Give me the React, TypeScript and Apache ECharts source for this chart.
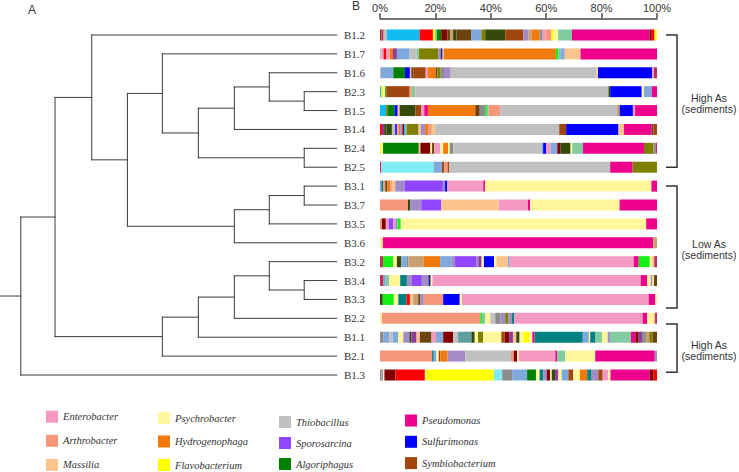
import React, { useEffect, useRef } from 'react';
import * as echarts from 'echarts';

// ---------- data ----------
const samples = ['B1.2', 'B1.7', 'B1.6', 'B2.3', 'B1.5', 'B1.4', 'B2.4', 'B2.5', 'B3.1', 'B3.7', 'B3.5', 'B3.6', 'B3.2', 'B3.4', 'B3.3', 'B2.2', 'B1.1', 'B2.1', 'B1.3'];

const genera = ['Enterobacter', 'Arthrobacter', 'Massilia', 'Psychrobacter', 'Hydrogenophaga', 'Flavobacterium', 'Thiobacillus', 'Sporosarcina', 'Algoriphagus', 'Pseudomonas', 'Sulfurimonas', 'Symbiobacterium'];
const generaKeys = ['ent', 'art', 'mas', 'psy', 'hyd', 'fla', 'thi', 'spo', 'alg', 'pse', 'sul', 'sym'];

const xTicks = [0, 20, 40, 60, 80, 100];

// relative abundance (%) per sample, in drawing order: [genus key, percent]
const pB1_2 = [['dbr', 0.5], ['cri', 0.8], ['thi', 1.2], ['sky', 11.8], ['red', 4.8], ['fla', 0.8], ['aqu', 0.6], ['alg', 1.6], ['dre', 2.3], ['dbr', 1.0], ['tan', 1.0], ['dol', 1.2], ['dbr', 5.4], ['slb', 3.6], ['oli', 1.4], ['dol', 7.2], ['sym', 6.6], ['lav', 1.8], ['tan', 1.2], ['hyd', 2.8], ['gry', 1.1], ['ent', 1.0], ['art', 2.2], ['fla', 0.8], ['psy', 1.6], ['aqu', 5.0], ['pse', 28.0], ['dre', 0.8], ['red', 1.0], ['fla', 0.8]];
const pB1_7 = [['thi', 0.5], ['ent', 0.8], ['red', 1.0], ['ent', 1.2], ['hyd', 1.2], ['pur', 1.4], ['slb', 4.6], ['thi', 2.6], ['aqu', 0.8], ['oli', 7.0], ['lav', 0.8], ['nav', 0.7], ['mas', 0.5], ['hyd', 40.4], ['lim', 0.8], ['aqu', 0.8], ['slb', 1.6], ['mas', 5.7], ['pse', 27.6]];
const pB1_6 = [['thi', 0.3], ['slb', 4.5], ['alg', 4.2], ['sul', 1.8], ['mas', 0.5], ['dbr', 0.7], ['sym', 4.5], ['ent', 0.8], ['hyd', 2.8], ['dbr', 0.6], ['oli', 1.2], ['gry', 1.2], ['lav', 2.4], ['thi', 52.7], ['mas', 0.5], ['sul', 19.6], ['ent', 0.6], ['cri', 1.1]];
const pB2_3 = [['sky', 0.5], ['fla', 0.6], ['psy', 0.8], ['alg', 0.4], ['sym', 8.4], ['art', 0.8], ['aqu', 1.2], ['thi', 69.8], ['dol', 0.6], ['sul', 11.4], ['psy', 0.8], ['slb', 2.8], ['pse', 1.9]];
const pB1_5 = [['sky', 2.2], ['oli', 0.7], ['alg', 2.3], ['sul', 1.2], ['mas', 0.7], ['dol', 5.7], ['sym', 2.0], ['ent', 1.2], ['pse', 1.3], ['hyd', 17.1], ['dbr', 1.6], ['gry', 2.0], ['lim', 0.6], ['aqu', 0.6], ['art', 4.2], ['thi', 42.1], ['tan', 1.0], ['sul', 4.8], ['ent', 0.8], ['pse', 7.9]];
const pB1_4 = [['red', 0.7], ['pur', 0.8], ['dol', 0.8], ['dol', 2.0], ['thi', 1.2], ['sul', 0.6], ['ent', 0.6], ['hyd', 0.6], ['lav', 0.8], ['dre', 0.6], ['sky', 0.6], ['tan', 0.4], ['oli', 4.2], ['mas', 0.8], ['lav', 1.6], ['hyd', 1.2], ['art', 1.2], ['mas', 1.2], ['thi', 44.8], ['sym', 2.5], ['sul', 18.9], ['mas', 2.0], ['pse', 10.0], ['dbr', 0.6], ['sym', 1.3]];
const pB2_4 = [['fla', 0.5], ['psy', 0.6], ['alg', 12.9], ['mas', 0.6], ['dre', 3.6], ['psy', 0.6], ['dbr', 0.8], ['ent', 2.2], ['psy', 1.0], ['hyd', 1.8], ['psy', 0.6], ['gry', 1.2], ['thi', 31.9], ['slb', 0.6], ['sul', 1.1], ['ent', 1.6], ['slb', 2.4], ['dre', 1.2], ['dol', 3.6], ['psy', 0.6], ['aqu', 3.9], ['pse', 22.0], ['oli', 3.4], ['gry', 0.8], ['cri', 0.5]];
const pB2_5 = [['cri', 0.5], ['cya', 18.9], ['slb', 3.0], ['sym', 0.8], ['art', 1.2], ['sym', 0.6], ['thi', 58.1], ['pse', 8.1], ['oli', 8.8]];
const pB3_1 = [['slb', 0.5], ['tea', 0.6], ['art', 0.8], ['dbr', 0.8], ['hyd', 1.0], ['art', 0.6], ['mas', 1.2], ['lav', 3.4], ['spo', 13.8], ['lav', 0.8], ['sul', 0.8], ['ent', 13.0], ['pse', 0.6], ['psy', 60.1], ['pse', 2.0]];
const pB3_7 = [['art', 10.1], ['dol', 0.8], ['lav', 4.0], ['spo', 7.2], ['mas', 20.7], ['ent', 10.6], ['pse', 0.8], ['psy', 32.3], ['pse', 13.5]];
const pB3_5 = [['art', 0.7], ['dre', 1.4], ['ent', 1.0], ['spo', 1.6], ['ent', 0.8], ['lav', 0.8], ['lim', 1.2], ['psy', 88.6], ['pse', 3.9]];
const pB3_6 = [['psy', 0.5], ['mas', 0.6], ['pse', 97.5], ['tan', 1.4]];
const pB3_2 = [['cri', 1.1], ['lim', 3.6], ['psy', 1.4], ['dol', 1.6], ['slb', 2.0], ['gry', 0.6], ['tan', 5.4], ['hyd', 6.0], ['slb', 4.2], ['lav', 1.2], ['spo', 7.8], ['lav', 0.6], ['pur', 1.2], ['psy', 0.8], ['sul', 3.7], ['psy', 0.8], ['mas', 4.2], ['slb', 0.6], ['ent', 44.8], ['pse', 1.8], ['lim', 4.0], ['psy', 0.8], ['mas', 0.8], ['cri', 1.0]];
const pB3_4 = [['cri', 1.3], ['slb', 0.8], ['aqu', 1.2], ['psy', 4.0], ['tea', 2.4], ['lav', 1.8], ['spo', 3.6], ['lav', 2.4], ['nav', 0.8], ['psy', 0.6], ['ent', 75.2], ['pse', 2.4], ['psy', 1.2], ['lav', 0.7], ['psy', 0.5], ['dbr', 1.1]];
const pB3_3 = [['dol', 1.0], ['lim', 4.0], ['psy', 1.6], ['tea', 3.0], ['red', 1.2], ['mas', 1.2], ['tan', 1.8], ['dbr', 0.8], ['lav', 1.2], ['art', 7.0], ['sul', 6.0], ['psy', 0.8], ['ent', 67.4], ['pse', 2.4], ['psy', 0.6]];
const pB2_2 = [['psy', 0.7], ['art', 35.5], ['lim', 0.6], ['aqu', 1.2], ['psy', 1.8], ['thi', 1.8], ['gry', 1.8], ['lav', 1.8], ['oli', 1.2], ['lav', 1.2], ['tea', 0.8], ['ent', 46.4], ['pse', 1.7], ['psy', 2.2], ['mas', 0.6], ['cri', 0.7]];
const pB1_1 = [['gry', 1.3], ['slb', 2.0], ['thi', 1.3], ['slb', 2.0], ['psy', 1.8], ['lav', 2.2], ['dol', 0.8], ['pur', 1.8], ['mas', 1.2], ['dbr', 4.2], ['ent', 1.6], ['slb', 2.6], ['dre', 3.6], ['thi', 1.8], ['cad', 4.8], ['dol', 1.2], ['psy', 1.2], ['oli', 1.8], ['psy', 6.6], ['sym', 1.2], ['dre', 1.8], ['pur', 1.2], ['mas', 1.2], ['dol', 1.2], ['psy', 1.4], ['fla', 2.2], ['psy', 1.0], ['pse', 0.8], ['tea', 17.4], ['slb', 2.2], ['psy', 0.5], ['tea', 1.9], ['aqu', 2.4], ['psy', 2.0], ['lav', 0.8], ['aqu', 7.6], ['pse', 1.6], ['dre', 1.2], ['pur', 1.2], ['gry', 1.4], ['tan', 1.2], ['oli', 1.2], ['dbr', 1.6]];
const pB2_1 = [['art', 18.8], ['tea', 0.6], ['slb', 1.0], ['psy', 0.8], ['sym', 0.6], ['hyd', 2.6], ['lav', 6.4], ['thi', 16.5], ['art', 1.0], ['dre', 1.2], ['psy', 0.6], ['ent', 13.2], ['pse', 0.6], ['aqu', 3.0], ['psy', 10.8], ['pse', 21.5], ['lav', 0.8]];
const pB1_3 = [['gry', 0.6], ['lav', 0.5], ['psy', 0.5], ['dre', 4.0], ['red', 10.6], ['psy', 0.5], ['fla', 24.4], ['cya', 3.0], ['gry', 3.6], ['slb', 5.4], ['alg', 3.2], ['psy', 1.3], ['tea', 1.4], ['lav', 1.2], ['dre', 1.2], ['psy', 0.6], ['dol', 1.2], ['pur', 1.2], ['psy', 1.2], ['slb', 2.4], ['sym', 1.8], ['psy', 2.4], ['hyd', 2.6], ['tea', 1.6], ['lav', 2.4], ['sym', 1.6], ['ent', 2.0], ['psy', 0.8], ['pse', 14.2], ['dre', 1.4], ['red', 1.2]];

const profiles = [pB1_2, pB1_7, pB1_6, pB2_3, pB1_5, pB1_4, pB2_4, pB2_5, pB3_1, pB3_7, pB3_5, pB3_6, pB3_2, pB3_4, pB3_3, pB2_2, pB1_1, pB2_1, pB1_3] as [string, number][][];

// hierarchical clustering merges: [child, child, height]; numbers refer to earlier merges
const merges: [string | number, string | number, number][] = [
  ['B2.3', 'B1.5', 0.92],
  ['B1.6', 0, 1.91],
  [1, 'B1.4', 2.9],
  ['B2.4', 'B2.5', 0.92],
  [2, 3, 3.92],
  ['B1.7', 4, 4.94],
  ['B3.1', 'B3.7', 0.92],
  [6, 'B3.5', 1.91],
  [7, 'B3.6', 2.9],
  [5, 8, 5.93],
  ['B1.2', 9, 6.94],
  ['B3.4', 'B3.3', 0.92],
  ['B3.2', 11, 1.91],
  [12, 'B2.2', 2.9],
  [13, 'B1.1', 3.92],
  [14, 'B2.1', 4.94],
  [10, 15, 7.98],
  [16, 'B1.3', 8.95],
];
const rootLength = 9.54;

// sample groups: [label, first row, last row]
const groupLabels = ['High As\n(sediments)', 'Low As\n(sediments)', 'High As\n(sediments)'];
const groupFrom = [0, 8, 15.3];
const groupTo = [7, 14.45, 17.85];

// ---------- styles ----------
const colors: Record<string, string> = {
  ent: '#F49AC2', art: '#F7977A', mas: '#FBC48D', psy: '#FFF79A', hyd: '#F27A0C', fla: '#FFFF00',
  thi: '#C0C0C0', spo: '#9045FF', alg: '#008000', pse: '#EC008C', sul: '#0000FF', sym: '#A0470F',
  sky: '#10BCF2', cya: '#7FEBF5', red: '#FF0000', oli: '#808000', dol: '#344A0A', dbr: '#6B4510',
  slb: '#7FA8DC', tea: '#008080', aqu: '#82CBA0', lav: '#A38BC8', dre: '#800000', lim: '#16F016',
  cad: '#5F9EA0', tan: '#C8A070', nav: '#1F1F8F', gry: '#8C8C8C', pur: '#8E3A9E', cri: '#C0305A',
};

const gridTop = 25.55;
const gridHeight = 358.9;
const legendCols = [[0, 1, 2], [3, 4, 5], [6, 7, 8], [9, 10, 11]];
const legendLeft = [46, 158, 279, 405];
const legendTop = [410.7, 412, 416, 414.5];
const legendGap = [12.1, 11.5, 9, 9.3];

function buildDendrogram(): number[][] {
  const nodes: { x: number; y: number }[] = [];
  const segs: number[][] = [];
  const pos = (ref: string | number) =>
    typeof ref === 'string' ? { x: 0, y: samples.indexOf(ref) } : nodes[ref];
  merges.forEach(([a, b, h]) => {
    const pa = pos(a);
    const pb = pos(b);
    segs.push([pa.x, pa.y, h, pa.y]);
    segs.push([pb.x, pb.y, h, pb.y]);
    segs.push([h, pa.y, h, pb.y]);
    nodes.push({ x: h, y: (pa.y + pb.y) / 2 });
  });
  const root = nodes[nodes.length - 1];
  segs.push([root.x, root.y, rootLength, root.y]);
  return segs;
}

export default function App() {
  const ref = useRef<HTMLDivElement>(null);
  useEffect(() => {
    if (!ref.current) return;
    const chart = echarts.init(ref.current, null, { renderer: 'svg' });
    const maxLen = Math.max(...profiles.map((p) => p.length));
    const segSeries = Array.from({ length: maxLen }, (_, k) => ({
      type: 'bar',
      stack: 'total',
      barWidth: 11,
      silent: true,
      xAxisIndex: 0,
      yAxisIndex: 0,
      data: profiles.map((p) =>
        p[k] ? { value: p[k][1], itemStyle: { color: colors[p[k][0]] } } : '-'
      ),
    }));
    const legendSeries = genera.map((g, i) => ({
      type: 'bar',
      name: g,
      stack: 'total',
      barWidth: 11,
      xAxisIndex: 0,
      yAxisIndex: 0,
      data: [],
      itemStyle: { color: colors[generaKeys[i]] },
    }));
    const dendro = buildDendrogram();
    const groupData = groupLabels.map((l, i) => [groupFrom[i], groupTo[i], i]);

    chart.setOption({
      animation: false,
      backgroundColor: '#ffffff',
      grid: [
        { left: 380, width: 277, top: gridTop, height: gridHeight },
        { left: 0, width: 336.7, top: gridTop, height: gridHeight },
        { left: 655, width: 84, top: gridTop, height: gridHeight },
      ],
      xAxis: [
        {
          type: 'value', gridIndex: 0, min: 0, max: 100, interval: 20, position: 'top', offset: 7.25,
          axisLine: { show: true, lineStyle: { color: '#444', width: 1.5 } },
          axisTick: { show: true, length: 5, lineStyle: { color: '#444', width: 1.5 } },
          axisLabel: { formatter: (v: number) => (xTicks.includes(v) ? v + '%' : ''), fontSize: 11, color: '#333', fontFamily: 'Liberation Sans', margin: 5 },
          splitLine: { show: false },
        },
        { type: 'value', gridIndex: 1, min: 0, max: rootLength, inverse: true, show: false },
        { type: 'value', gridIndex: 2, min: 0, max: 1, show: false },
      ],
      yAxis: [
        {
          type: 'category', gridIndex: 0, data: samples, inverse: true,
          axisLine: { show: false }, axisTick: { show: false },
          axisLabel: { fontFamily: 'Liberation Serif', fontSize: 11, color: '#333', margin: 15 },
        },
        { type: 'value', gridIndex: 1, min: -0.5, max: samples.length - 0.5, inverse: true, show: false },
        { type: 'value', gridIndex: 2, min: -0.5, max: samples.length - 0.5, inverse: true, show: false },
      ],
      legend: legendCols.map((col, c) => ({
        data: col.map((i) => genera[i]),
        orient: 'vertical',
        left: legendLeft[c],
        top: legendTop[c],
        padding: 0,
        itemWidth: 12,
        itemHeight: 12,
        itemGap: legendGap[c],
        icon: 'rect',
        selectedMode: false,
        textStyle: { fontFamily: 'Liberation Serif', fontStyle: 'italic', fontSize: 10.5, color: '#333' },
      })),
      graphic: [
        { type: 'text', left: 28, top: 4, style: { text: 'A', font: '12px "Liberation Sans"', fill: '#333' } },
        { type: 'text', left: 352, top: 0, style: { text: 'B', font: '12px "Liberation Sans"', fill: '#333' } },
      ],
      series: [
        ...legendSeries,
        ...segSeries,
        {
          type: 'custom',
          xAxisIndex: 1,
          yAxisIndex: 1,
          silent: true,
          clip: false,
          encode: { x: [0, 2], y: [1, 3] },
          data: dendro,
          renderItem: (_p: any, api: any) => {
            const a = api.coord([api.value(0), api.value(1)]);
            const b = api.coord([api.value(2), api.value(3)]);
            return {
              type: 'line',
              shape: { x1: a[0], y1: a[1], x2: b[0], y2: b[1] },
              style: { stroke: '#3c3c3c', lineWidth: 1, lineCap: 'square' },
            };
          },
        },
        {
          type: 'custom',
          xAxisIndex: 2,
          yAxisIndex: 2,
          silent: true,
          clip: false,
          encode: { y: [0, 1] },
          data: groupData,
          renderItem: (_p: any, api: any) => {
            const t = api.coord([0, api.value(0)]);
            const b = api.coord([0, api.value(1)]);
            const x0 = t[0];
            const label = groupLabels[api.value(2)];
            return {
              type: 'group',
              children: [
                {
                  type: 'polyline',
                  shape: { points: [[x0 + 11, t[1]], [x0 + 22, t[1]], [x0 + 22, b[1]], [x0 + 11, b[1]]] },
                  style: { stroke: '#333', lineWidth: 1.5, fill: 'none' },
                },
                {
                  type: 'text',
                  x: x0 + 54,
                  y: (t[1] + b[1]) / 2 + 2,
                  style: {
                    text: label, fontSize: 10.5, fontFamily: 'Liberation Sans', fill: '#333',
                    align: 'center', verticalAlign: 'middle', lineHeight: 11,
                  },
                },
              ],
            };
          },
        },
      ],
    });
    return () => chart.dispose();
  }, []);
  return <div ref={ref} style={{ position: 'fixed', left: 0, top: 0, width: 739, height: 472 }} />;
}
